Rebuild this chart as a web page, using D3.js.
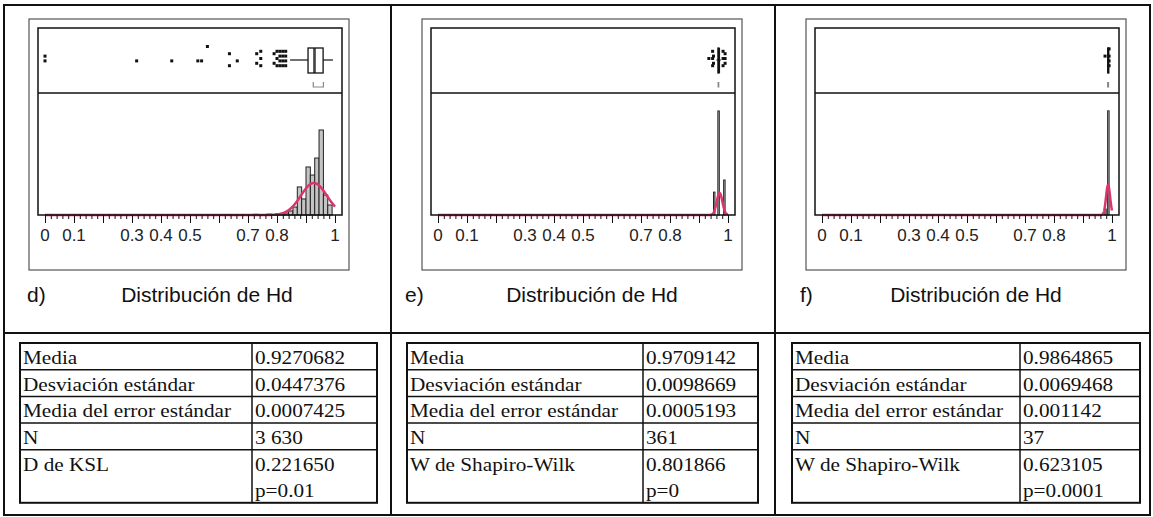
<!DOCTYPE html>
<html>
<head>
<meta charset="UTF-8">
<title>Distribución de Hd</title>
<script src="https://cdn.jsdelivr.net/npm/d3@7"></script>
<style>
    body { margin: 0; background: #fff; }
    svg { display: block; }
    .tick-label { font-family: "Liberation Sans", Arial, sans-serif; font-size: 17px; fill: #222; }
    .title { font-family: "Liberation Sans", Arial, sans-serif; font-size: 21px; fill: #111; }
    .cell { font-family: "Liberation Serif", "Times New Roman", serif; font-size: 18px; fill: #111; }
</style>
</head>
<body>
<div id="chart"></div>
<script>
    // ---- data ----
    const panelLetters = ["d)", "e)", "f)"];
    const panelTitle = "Distribución de Hd";
    const tickLabels = [0, 0.1, 0.3, 0.4, 0.5, 0.7, 0.8, 1];

    const statNames = [
        ["Media", "Desviación estándar", "Media del error estándar", "N", "D de KSL"],
        ["Media", "Desviación estándar", "Media del error estándar", "N", "W de Shapiro-Wilk"],
        ["Media", "Desviación estándar", "Media del error estándar", "N", "W de Shapiro-Wilk"]
    ];
    const statValues = [
        ["0.9270682", "0.0447376", "0.0007425", "3 630", "0.221650"],
        ["0.9709142", "0.0098669", "0.0005193", "361", "0.801866"],
        ["0.9864865", "0.0069468", "0.001142", "37", "0.623105"]
    ];
    const pValues = ["p=0.01", "p=0", "p=0.0001"];

    const means = [0.9270682, 0.9709142, 0.9864865];
    const stdDevs = [0.0447376, 0.0098669, 0.0069468];

    // histogram bins (start of bin) and counts
    const binWidths = [0.015, 0.005, 0.005];
    const binStarts = [
        [0.54, 0.63, 0.72, 0.765, 0.795, 0.81, 0.825, 0.84, 0.855, 0.87, 0.885, 0.90, 0.915, 0.93, 0.945, 0.96, 0.975],
        [0.95, 0.965, 0.985],
        [0.975, 0.985]
    ];
    const binCounts = [
        [4, 6, 8, 10, 14, 18, 23, 46, 91, 320, 183, 548, 456, 650, 970, 228, 114],
        [51, 232, 78],
        [2, 35]
    ];
    const countMax = [1392, 272, 41];       // top of histogram area
    const curvePeak = [365, 49, 10.1];      // height of fitted normal at the mean

    // outlier box plots: quartiles, whiskers, outliers (value, stack level)
    const quartiles = [[0.907, 0.931, 0.959], [0.9655, 0.967, 0.9685], [0.9855, 0.9865, 0.9875]];
    const whiskers = [[0.845, 0.993], [0.96, 0.975], [0.983, 0.99]];
    const shortestHalf = [[0.925, 0.96], [0.966, 0.968], [0.985, 0.988]];
    const outlierValues = [
        [0, 0, 0.316, 0.437, 0.527, 0.540, 0.56, 0.636, 0.636, 0.663, 0.73, 0.73, 0.744, 0.744, 0.744,
         0.79, 0.79, 0.80, 0.80, 0.80, 0.81, 0.81, 0.81, 0.81, 0.82, 0.82, 0.82, 0.82, 0.83, 0.83, 0.83, 0.83],
        [0.934, 0.947, 0.947, 0.947, 0.95, 0.95, 0.983, 0.983, 0.983, 0.99, 0.99, 0.99],
        [0.976, 0.99, 0.99, 0.99, 0.99]
    ];
    const outlierLevels = [
        [-1, 1, 1, 1, 1, 1, -5, -2, 3, 1, -2, 2, -3, 0, 3,
         -2, 2, -3, 0, 3, -3, -1, 1, 3, -3, -1, 1, 3, -3, -1, 1, 3],
        [0, -3, 0, 3, -1, 2, -3, 0, 3, -2, 0, 2],
        [-1, -4, -1, 1, 3]
    ];

    // ---- layout ----
    const width = 1153, height = 517;
    const colX = [4, 391, 775, 1150];
    const outerTop = 5, outerBottom = 515, splitY = 333;
    const boxLeft = [29, 422, 806], boxW = 320, boxTop = 19, boxBottom = 270;
    const frameTop = 28, frameSep = 93, frameBottom = 215;
    const tableLeft = [20, 407, 792], tableDiv = [252, 643, 1020], tableRight = [377, 758, 1140];
    const tableTop = 343, rowH = 26.7, lastRowH = 53;
    const letterX = [27, 405, 800], titleCx = [207, 592, 976];
    const textStretch = 1.18;
    const curveColor = "#d9366d";

    const svg = d3.select("#chart").append("svg")
        .attr("width", width)
        .attr("height", height);

    // outer grid of the figure
    const grid = svg.append("g").attr("fill", "none").attr("stroke", "#111").attr("stroke-width", 2);
    grid.append("rect").attr("x", colX[0]).attr("y", outerTop)
        .attr("width", colX[3] - colX[0]).attr("height", outerBottom - outerTop);
    grid.append("line").attr("x1", colX[0]).attr("x2", colX[3]).attr("y1", splitY).attr("y2", splitY);
    [colX[1], colX[2]].forEach(x => {
        grid.append("line").attr("x1", x).attr("x2", x).attr("y1", outerTop).attr("y2", outerBottom);
    });

    for (let p = 0; p < 3; p++) {
        const g = svg.append("g");
        const frameL = boxLeft[p] + 9, frameR = boxLeft[p] + 313;
        const x = d3.scaleLinear().domain([0, 1]).range([frameL + 7, frameR - 7]);
        const y = d3.scaleLinear().domain([0, countMax[p]]).range([frameBottom, frameSep]);

        // panel box around the picture
        g.append("rect").attr("x", boxLeft[p]).attr("y", boxTop)
            .attr("width", boxW).attr("height", boxBottom - boxTop)
            .attr("fill", "none").attr("stroke", "#555").attr("stroke-width", 1.2);

        // histogram bars
        g.selectAll("rect.bar")
            .data(binStarts[p].map((s, i) => ({s: s, c: binCounts[p][i]})))
            .enter()
            .append("rect")
            .attr("class", "bar")
            .attr("x", d => x(d.s))
            .attr("width", d => x(d.s + binWidths[p]) - x(d.s))
            .attr("y", d => y(d.c))
            .attr("height", d => y(0) - y(d.c))
            .attr("fill", "#c4c4c4")
            .attr("stroke", "#222")
            .attr("stroke-width", 1);

        // fitted normal curve
        const m = means[p], s = stdDevs[p];
        const pts = d3.range(0, 1.0001, 0.0005).map(v => [v, curvePeak[p] * Math.exp(-0.5 * ((v - m) / s) ** 2)]);
        g.append("path")
            .datum(pts)
            .attr("fill", "none")
            .attr("stroke", curveColor)
            .attr("stroke-width", 2.5)
            .attr("d", d3.line().x(d => x(d[0])).y(d => y(d[1])));

        // plot frame and separator
        g.append("rect").attr("x", frameL).attr("y", frameTop)
            .attr("width", frameR - frameL).attr("height", frameBottom - frameTop)
            .attr("fill", "none").attr("stroke", "#111").attr("stroke-width", 1.5);
        g.append("line").attr("x1", frameL).attr("x2", frameR)
            .attr("y1", frameSep).attr("y2", frameSep)
            .attr("stroke", "#111").attr("stroke-width", 1.5);

        // box plot
        const bc = 60;
        const q = quartiles[p], wk = whiskers[p];
        g.append("line").attr("x1", x(wk[0])).attr("x2", x(q[0])).attr("y1", bc).attr("y2", bc)
            .attr("stroke", "#111").attr("stroke-width", 1.2);
        g.append("line").attr("x1", x(q[2])).attr("x2", x(wk[1])).attr("y1", bc).attr("y2", bc)
            .attr("stroke", "#111").attr("stroke-width", 1.2);
        g.append("rect").attr("x", x(q[0])).attr("y", bc - 12)
            .attr("width", Math.max(1, x(q[2]) - x(q[0]))).attr("height", 25)
            .attr("fill", "#fff").attr("stroke", "#111").attr("stroke-width", 1.3);
        g.append("line").attr("x1", x(q[1])).attr("x2", x(q[1])).attr("y1", bc - 12).attr("y2", bc + 13)
            .attr("stroke", "#111").attr("stroke-width", 1.3);
        g.append("line").attr("x1", x(m)).attr("x2", x(m)).attr("y1", bc - 12).attr("y2", bc + 13)
            .attr("stroke", "#111").attr("stroke-width", 1);
        // shortest half bracket
        const sh = shortestHalf[p];
        g.append("path")
            .attr("d", `M${x(sh[0])},${bc + 22}V${bc + 27}H${x(sh[1])}V${bc + 22}`)
            .attr("fill", "none").attr("stroke", "#888").attr("stroke-width", 1.2);

        g.selectAll("rect.out")
            .data(outlierValues[p].map((v, i) => ({v: v, l: outlierLevels[p][i]})))
            .enter()
            .append("rect")
            .attr("class", "out")
            .attr("x", d => x(d.v) - 1.5)
            .attr("y", d => bc - 3 + d.l * 2.4)
            .attr("width", 3)
            .attr("height", 3)
            .attr("fill", "#111");

        // axis: major ticks every 0.1, minor every 0.02
        const axMinor = d3.axisBottom(x).tickValues(d3.range(0, 1.0001, 0.02)).tickSize(4).tickFormat("");
        const axMajor = d3.axisBottom(x).tickValues(d3.range(0, 1.0001, 0.1)).tickSize(8).tickFormat("");
        [axMinor, axMajor].forEach(ax => {
            const a = g.append("g").attr("transform", `translate(0,${frameBottom})`).call(ax);
            a.select(".domain").remove();
            a.selectAll("line").attr("stroke", "#111").attr("stroke-width", 1);
        });
        g.selectAll("text.tick-label")
            .data(tickLabels)
            .enter()
            .append("text")
            .attr("class", "tick-label")
            .attr("x", d => x(d))
            .attr("y", 241)
            .attr("text-anchor", "middle")
            .text(d => d3.format("")(d));

        // panel caption
        g.append("text").attr("class", "title").attr("x", letterX[p]).attr("y", 302).text(panelLetters[p]);
        g.append("text").attr("class", "title").attr("x", titleCx[p]).attr("y", 302)
            .attr("text-anchor", "middle").text(panelTitle);

        // statistics table
        const rows = statNames[p].map((n, i) => ({name: n, value: statValues[p][i]}));
        const tb = g.append("g");
        const tHeight = rowH * 4 + lastRowH;
        tb.append("rect").attr("x", tableLeft[p]).attr("y", tableTop)
            .attr("width", tableRight[p] - tableLeft[p]).attr("height", tHeight)
            .attr("fill", "none").attr("stroke", "#111").attr("stroke-width", 2);
        tb.append("line").attr("x1", tableDiv[p]).attr("x2", tableDiv[p])
            .attr("y1", tableTop).attr("y2", tableTop + tHeight)
            .attr("stroke", "#111").attr("stroke-width", 1.5);
        for (let r = 1; r < rows.length; r++) {
            tb.append("line").attr("x1", tableLeft[p]).attr("x2", tableRight[p])
                .attr("y1", tableTop + r * rowH).attr("y2", tableTop + r * rowH)
                .attr("stroke", "#111").attr("stroke-width", 1.5);
        }
        const cellText = (tx, ty, str) => tb.append("text")
            .attr("class", "cell")
            .attr("transform", `translate(${tx},${ty}) scale(${textStretch},1)`)
            .text(str);
        rows.forEach((d, i) => {
            cellText(tableLeft[p] + 3, tableTop + i * rowH + 21, d.name);
            cellText(tableDiv[p] + 3, tableTop + i * rowH + 21, d.value);
        });
        cellText(tableDiv[p] + 3, tableTop + 4 * rowH + 47, pValues[p]);
    }
</script>
</body>
</html>
